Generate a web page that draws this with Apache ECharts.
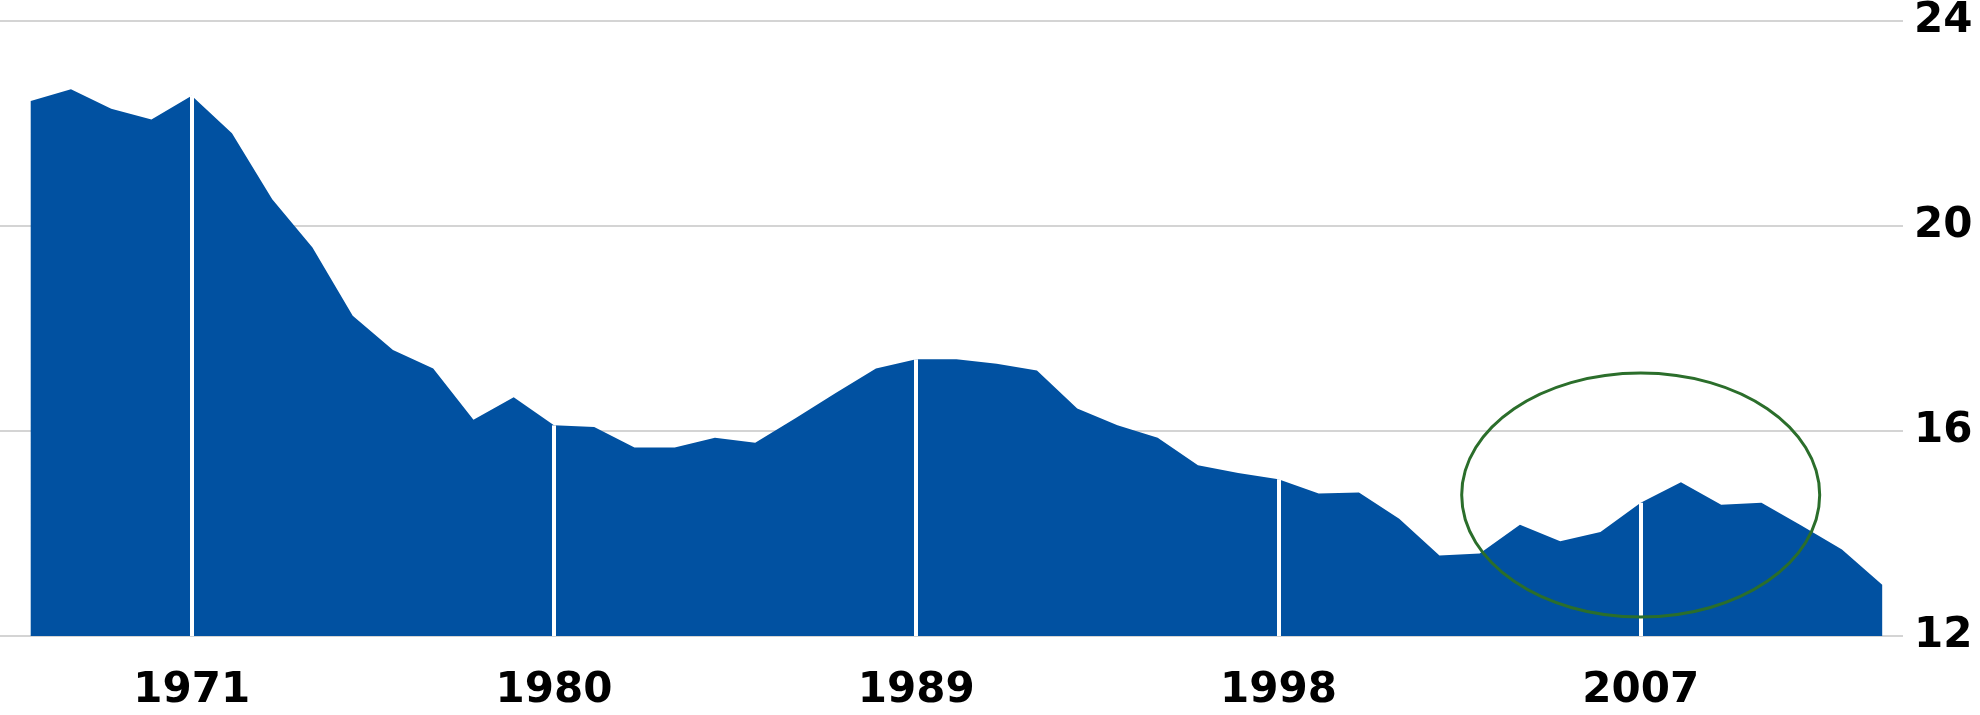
<!DOCTYPE html>
<html>
<head>
<meta charset="utf-8">
<script src="https://cdn.jsdelivr.net/npm/echarts@6/dist/echarts.min.js"></script>
<style>
  html, body { margin: 0; padding: 0; background: #fff; }
  #chart { width: 1980px; height: 715px; }
</style>
</head>
<body>
<div id="chart"></div>
<script>
  // years on the x axis, one value per year
  var years = [];
  for (var y = 1967; y <= 2013; y++) years.push(y);

  var values = [
    22.44, 22.67, 22.29, 22.08, 22.54, 21.81, 20.52, 19.58, 18.25, 17.58,
    17.22, 16.22, 16.66, 16.11, 16.08, 15.68, 15.68, 15.87, 15.77, 16.25,
    16.74, 17.22, 17.40, 17.40, 17.31, 17.18, 16.44, 16.11, 15.87, 15.33,
    15.18, 15.06, 14.78, 14.80, 14.29, 13.57, 13.61, 14.17, 13.85, 14.03,
    14.60, 15.00, 14.56, 14.60, 14.15, 13.69, 13.00
  ];

  var labelYears = [1971, 1980, 1989, 1998, 2007];
  var yTicks = [12, 16, 20, 24];

  // circled region (year, value at centre)
  var circleYear = 2007;
  var circleValue = 14.75;

  var chart = echarts.init(document.getElementById('chart'));

  var seriesData = years.map(function (yr, i) { return [yr, values[i]]; });

  var whiteLines = labelYears.map(function (yr) {
    var v = values[years.indexOf(yr)];
    return [{ coord: [yr, yTicks[0]] }, { coord: [yr, v] }];
  });

  var labelFont = {
    fontFamily: 'DejaVu Sans',
    fontWeight: 'bold',
    fontSize: 42,
    color: '#000'
  };

  var option = {
    animation: false,
    backgroundColor: '#fff',
    grid: {
      left: 0,
      right: 77,
      top: 20,
      bottom: 79
    },
    xAxis: {
      type: 'value',
      min: 1966.237,
      max: 2013.517,
      axisLine: { show: false },
      axisTick: { show: false },
      splitLine: { show: false },
      axisLabel: Object.assign({
        customValues: labelYears,
        margin: 55,
        verticalAlign: 'middle',
        formatter: function (v) { return String(v); }
      }, labelFont)
    },
    yAxis: {
      type: 'value',
      position: 'right',
      min: yTicks[0],
      max: yTicks[yTicks.length - 1],
      interval: 4,
      axisLine: { show: false },
      axisTick: { show: false },
      splitLine: {
        lineStyle: { color: '#d4d4d4', width: 2 }
      },
      axisLabel: Object.assign({
        margin: 11
      }, labelFont)
    },
    series: [
      {
        type: 'line',
        data: seriesData,
        showSymbol: false,
        lineStyle: { width: 0 },
        areaStyle: { color: '#0151a1', opacity: 1 },
        itemStyle: { color: '#0151a1' },
        markLine: {
          silent: true,
          symbol: ['none', 'none'],
          label: { show: false },
          lineStyle: { color: '#ffffff', width: 4, type: 'solid' },
          data: whiteLines
        }
      }
    ]
  };

  chart.setOption(option);

  var c = chart.convertToPixel({ xAxisIndex: 0, yAxisIndex: 0 }, [circleYear, circleValue]);
  chart.setOption({
    graphic: [
      {
        type: 'ellipse',
        shape: { cx: c[0], cy: c[1], rx: 179, ry: 122 },
        style: { fill: 'none', stroke: '#2b6e2b', lineWidth: 3 },
        z: 100
      }
    ]
  });
</script>
</body>
</html>
